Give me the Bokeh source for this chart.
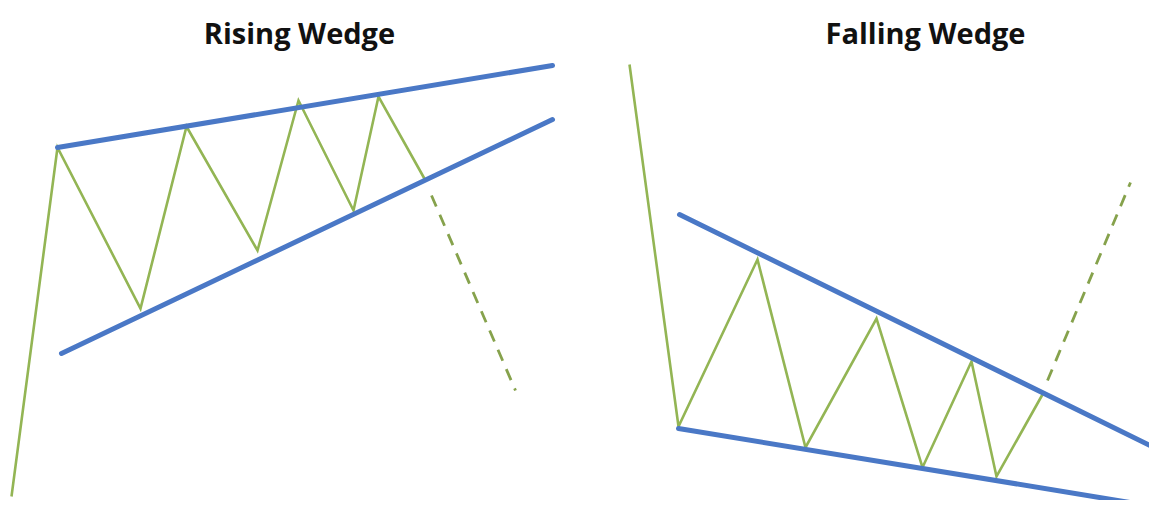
from bokeh.plotting import figure
from bokeh.models import Range1d
from bokeh.embed import file_html
from bokeh.resources import INLINE
from bokeh.core.properties import value

# ---- data (picture coordinates, y grows downward) ----
titles = ["Rising Wedge", "Falling Wedge"]
title_x = [299, 925]
title_y = [32, 32]

rising_price_x = [11, 57, 140, 186, 257, 298, 353, 378, 425]
rising_price_y = [496, 147, 308, 126, 250, 100, 210, 96, 180]
rising_break_x = [431, 515]
rising_break_y = [195, 390]
rising_upper_x = [57, 552]
rising_upper_y = [147, 65]
rising_lower_x = [61, 552]
rising_lower_y = [353, 119]

falling_price_x = [629, 678, 757, 805, 876, 922, 971, 996, 1042]
falling_price_y = [64, 426, 259, 447, 318, 467, 361, 476, 394]
falling_break_x = [1047, 1130]
falling_break_y = [380, 182]
falling_upper_x = [679, 1166]
falling_upper_y = [214, 453]
falling_lower_x = [678, 1166]
falling_lower_y = [428, 508]

BLUE = "#4a78c6"
GREEN = "#93b554"
DASH_GREEN = "#86a24c"

p = figure(width=1149, height=500, output_backend="svg", toolbar_location=None,
           x_range=Range1d(0, 1149), y_range=Range1d(500, 0),
           min_border=0, outline_line_color=None)
p.axis.visible = False
p.grid.visible = False
p.background_fill_color = "white"
p.border_fill_color = "white"

for xs, ys in [(rising_price_x, rising_price_y), (falling_price_x, falling_price_y)]:
    p.line(xs, ys, line_color=GREEN, line_width=2.6, line_join="miter")
for xs, ys in [(rising_break_x, rising_break_y), (falling_break_x, falling_break_y)]:
    p.line(xs, ys, line_color=DASH_GREEN, line_width=2.8, line_dash="12 9")
for xs, ys in [(rising_upper_x, rising_upper_y), (rising_lower_x, rising_lower_y),
               (falling_upper_x, falling_upper_y), (falling_lower_x, falling_lower_y)]:
    p.line(xs, ys, line_color=BLUE, line_width=5, line_cap="round")

p.text(x=title_x, y=title_y, text=titles, text_font=value("Open Sans"),
       text_font_style="bold", text_font_size="29px", text_color="#111111",
       text_align="center", text_baseline="alphabetic")

open("out.html", "w").write(file_html(p, INLINE))
